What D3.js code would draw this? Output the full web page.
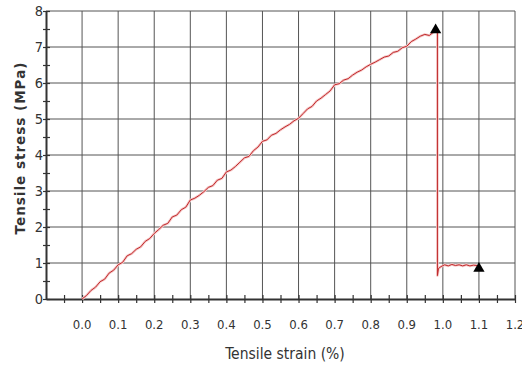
<!DOCTYPE html>
<html><head><meta charset="utf-8">
<script src="https://cdn.jsdelivr.net/npm/d3@7"></script>
<style>body{margin:0;background:#fff}svg{display:block}</style>
</head><body>
<svg id="c" width="522" height="367"></svg>
<script>
const strain = [0,0.0125,0.025,0.0375,0.05,0.0625,0.075,0.0875,0.1,0.1125,0.125,0.1375,0.15,0.1625,0.175,0.1875,0.2,0.2125,0.225,0.2375,0.25,0.2625,0.275,0.2875,0.3,0.3125,0.325,0.3375,0.35,0.3625,0.375,0.3875,0.4,0.4125,0.425,0.4375,0.45,0.4625,0.475,0.4875,0.5,0.5125,0.525,0.5375,0.55,0.5625,0.575,0.5875,0.6,0.6125,0.625,0.6375,0.65,0.6625,0.675,0.6875,0.7,0.7125,0.725,0.7375,0.75,0.7625,0.775,0.7875,0.8,0.8125,0.825,0.8375,0.85,0.8625,0.875,0.8875,0.9,0.9125,0.925,0.9375,0.95,0.9625,0.975,0.985,0.985,0.988,0.995,1.005,1.015,1.025,1.035,1.045,1.055,1.065,1.075,1.085,1.095];
const stress = [0,0.10,0.24,0.33,0.48,0.55,0.72,0.80,0.95,1.02,1.20,1.26,1.38,1.45,1.60,1.68,1.82,1.93,2.05,2.10,2.28,2.33,2.48,2.55,2.75,2.80,2.88,2.98,3.10,3.15,3.30,3.35,3.53,3.58,3.68,3.80,3.92,3.96,4.12,4.22,4.38,4.42,4.55,4.60,4.70,4.78,4.85,4.95,5.02,5.15,5.28,5.35,5.50,5.58,5.68,5.78,5.95,5.98,6.08,6.12,6.22,6.30,6.36,6.45,6.52,6.58,6.65,6.72,6.75,6.85,6.88,6.98,7.02,7.15,7.22,7.30,7.35,7.32,7.42,7.45,0.65,0.85,0.90,0.95,0.92,0.96,0.93,0.95,0.92,0.95,0.92,0.94,0.93];
const markerStrain = [0.98, 1.1];
const markerStress = [7.47, 0.85];
const xTicks = [0,0.1,0.2,0.3,0.4,0.5,0.6,0.7,0.8,0.9,1.0,1.1,1.2];
const yTicks = [0,1,2,3,4,5,6,7,8];
const xLabel = "Tensile strain (%)";
const yLabel = "Tensile stress (MPa)";

const svg = d3.select("#c");
const m = {l:46, r:515, t:11, b:299};
const x = d3.scaleLinear().domain([-0.1,1.2]).range([m.l,m.r]);
const y = d3.scaleLinear().domain([0,8]).range([m.b,m.t]);
const font = "'DejaVu Sans Condensed','DejaVu Sans',sans-serif";
const grid = "#555";

const g = svg.append("g");
g.selectAll(".vg").data(xTicks.filter(d=>d<1.2)).join("line")
  .attr("x1",d=>x(d)).attr("x2",d=>x(d)).attr("y1",m.t).attr("y2",m.b)
  .attr("stroke",grid).attr("stroke-width",1);
g.selectAll(".hg").data(yTicks.filter(d=>d>0)).join("line")
  .attr("x1",m.l).attr("x2",m.r).attr("y1",d=>y(d)).attr("y2",d=>y(d))
  .attr("stroke",grid).attr("stroke-width",1);
g.append("line").attr("x1",m.r).attr("x2",m.r).attr("y1",m.t).attr("y2",m.b).attr("stroke",grid);

const xAxis = d3.axisBottom(x).tickValues(d3.range(-0.1,1.201,0.05)).tickSize(0).tickFormat("");
const xa = svg.append("g").attr("transform",`translate(0,${m.b})`).call(xAxis);
xa.select(".domain").attr("stroke","#333").attr("stroke-width",2);
xa.selectAll(".tick line").attr("y1",-4).attr("y2",4).attr("stroke","#333").attr("stroke-width",1.2);
xa.selectAll(".tick").filter(d=>Math.abs(d+0.1)<1e-6).remove();
svg.append("g").selectAll("text").data(xTicks).join("text")
  .attr("x",d=>x(d)).attr("y",329).attr("text-anchor","middle")
  .attr("font-family",font).attr("font-size",13).attr("fill","#333")
  .text(d=>d3.format(".1f")(d));

const yAxis = d3.axisLeft(y).tickValues(d3.range(0,8.01,0.5)).tickSize(0).tickFormat("");
const ya = svg.append("g").attr("transform",`translate(${m.l},0)`).call(yAxis);
ya.select(".domain").attr("stroke","#333").attr("stroke-width",2);
ya.selectAll(".tick line").attr("x1",-3).attr("x2",4).attr("stroke","#333").attr("stroke-width",1.2);
svg.append("g").selectAll("text").data(yTicks).join("text")
  .attr("x",43).attr("y",d=>y(d)+5).attr("text-anchor","end")
  .attr("font-family",font).attr("font-size",14.5).attr("fill","#333")
  .text(d=>d);

const line = d3.line().x((d,i)=>x(strain[i])).y((d,i)=>y(stress[i]));
svg.append("path").datum(strain).attr("d",line).attr("fill","none")
  .attr("stroke","#f5c8c8").attr("stroke-width",2.6).attr("stroke-linejoin","round");
svg.append("path").datum(strain).attr("d",line).attr("fill","none")
  .attr("stroke","#c0282a").attr("stroke-width",1).attr("stroke-linejoin","round");

svg.append("g").selectAll("path").data(markerStrain).join("path")
  .attr("d",d3.symbol(d3.symbolTriangle,55))
  .attr("transform",(d,i)=>`translate(${x(d)},${y(markerStress[i])})`)
  .attr("fill","#000");

svg.append("text").attr("x",285).attr("y",359).attr("text-anchor","middle")
  .attr("font-family",font).attr("font-size",15.5).attr("fill","#333").text(xLabel);
svg.append("text").attr("transform","translate(25,148) rotate(-90)").attr("text-anchor","middle")
  .attr("font-family","'DejaVu Sans',sans-serif").attr("font-weight","bold").attr("letter-spacing",1.0)
  .attr("font-size",13.5).attr("fill","#333").text(yLabel);
</script>
</body></html>
